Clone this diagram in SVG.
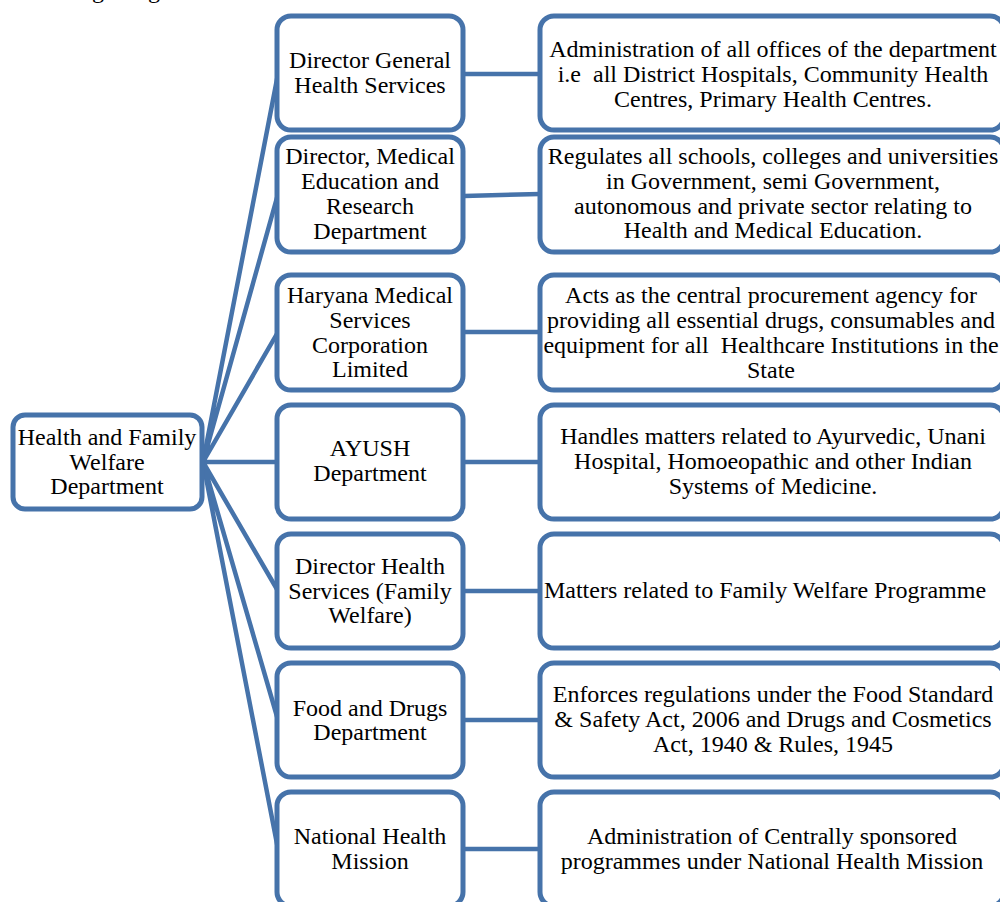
<svg xmlns="http://www.w3.org/2000/svg" width="1000" height="902" viewBox="0 0 1000 902">
<style>
.box{fill:#fff;stroke:#4673aa;stroke-width:5}
.ln{stroke:#4673aa;stroke-width:4.5;fill:none}
text{font-family:"Liberation Serif","Times New Roman",serif;font-size:24px;fill:#000;text-anchor:middle;white-space:pre}
</style>
<rect width="1000" height="902" fill="#fff"/>
<text x="92" y="-2" style="text-anchor:start">g</text>
<text x="148" y="-2" style="text-anchor:start">g</text>
<g id="connectors">
<path class="ln" d="M203 462 L278 74 M203 462 L278 194 M203 462 L278 332 M203 462 L278 462 M203 462 L278 591 M203 462 L278 720 M203 462 L278 849"/>
<path class="ln" d="M464 74 H540 M464 196 L540 194 M464 332 H540 M464 462 H540 M464 591 H540 M464 720 H540 M464 849 H540"/>
</g>
<g id="root"><rect class="box" x="13" y="415" width="189" height="94" rx="12"/>
<text x="107" y="445">Health and Family</text><text x="107" y="470">Welfare</text><text x="107" y="494">Department</text></g>
<g id="m1"><rect class="box" x="277" y="16" width="186" height="114" rx="14"/>
<text x="370" y="68">Director General</text><text x="370" y="93">Health Services</text></g>
<g id="m2"><rect class="box" x="277" y="137" width="186" height="115" rx="14"/>
<text x="370" y="164">Director, Medical</text><text x="370" y="189">Education and</text><text x="370" y="214">Research</text><text x="370" y="239">Department</text></g>
<g id="m3"><rect class="box" x="277" y="275" width="186" height="115" rx="14"/>
<text x="370" y="303">Haryana Medical</text><text x="370" y="328">Services</text><text x="370" y="353">Corporation</text><text x="370" y="377">Limited</text></g>
<g id="m4"><rect class="box" x="277" y="405" width="186" height="114" rx="14"/>
<text x="370" y="456">AYUSH</text><text x="370" y="481">Department</text></g>
<g id="m5"><rect class="box" x="277" y="534" width="186" height="114" rx="14"/>
<text x="370" y="574">Director Health</text><text x="370" y="599">Services (Family</text><text x="370" y="623">Welfare)</text></g>
<g id="m6"><rect class="box" x="277" y="663" width="186" height="114" rx="14"/>
<text x="370" y="716">Food and Drugs</text><text x="370" y="740">Department</text></g>
<g id="m7"><rect class="box" x="277" y="792" width="186" height="114" rx="14"/>
<text x="370" y="844">National Health</text><text x="370" y="869">Mission</text></g>
<g id="r1"><rect class="box" x="540" y="16" width="464" height="114" rx="14"/>
<text x="773" y="57">Administration of all offices of the department</text><text x="773" y="82">i.e  all District Hospitals, Community Health</text><text x="773" y="107">Centres, Primary Health Centres.</text></g>
<g id="r2"><rect class="box" x="540" y="137" width="464" height="115" rx="14"/>
<text x="773" y="164">Regulates all schools, colleges and universities</text><text x="773" y="189">in Government, semi Government,</text><text x="773" y="214">autonomous and private sector relating to</text><text x="773" y="238">Health and Medical Education.</text></g>
<g id="r3"><rect class="box" x="540" y="275" width="464" height="115" rx="14"/>
<text x="771" y="303">Acts as the central procurement agency for</text><text x="771" y="328">providing all essential drugs, consumables and</text><text x="771" y="353">equipment for all  Healthcare Institutions in the</text><text x="771" y="378">State</text></g>
<g id="r4"><rect class="box" x="540" y="405" width="464" height="114" rx="14"/>
<text x="773" y="444">Handles matters related to Ayurvedic, Unani</text><text x="773" y="469">Hospital, Homoeopathic and other Indian</text><text x="773" y="494">Systems of Medicine.</text></g>
<g id="r5"><rect class="box" x="540" y="534" width="464" height="114" rx="14"/>
<text x="765" y="598">Matters related to Family Welfare Programme</text></g>
<g id="r6"><rect class="box" x="540" y="663" width="464" height="114" rx="14"/>
<text x="773" y="702">Enforces regulations under the Food Standard</text><text x="773" y="727">&amp; Safety Act, 2006 and Drugs and Cosmetics</text><text x="773" y="752">Act, 1940 &amp; Rules, 1945</text></g>
<g id="r7"><rect class="box" x="540" y="792" width="464" height="114" rx="14"/>
<text x="772" y="844">Administration of Centrally sponsored</text><text x="772" y="869">programmes under National Health Mission</text></g>
</svg>
